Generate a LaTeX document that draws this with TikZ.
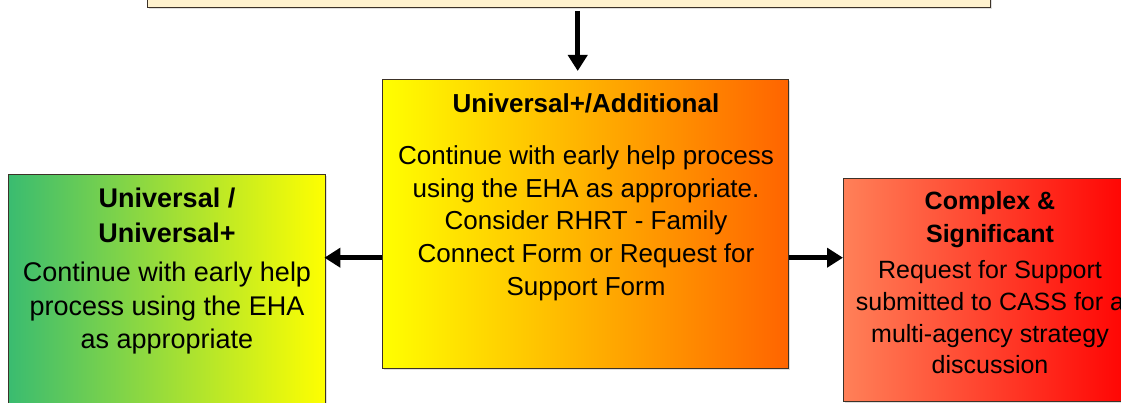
\documentclass[tikz,border=0pt]{standalone}
\usepackage{fontspec}
\setmainfont{Liberation Sans}
\usetikzlibrary{arrows.meta,shadows}
\definecolor{cream}{RGB}{255,242,206}
\definecolor{sgreen}{RGB}{58,188,112}
\definecolor{midorange}{RGB}{255,206,0}
\definecolor{deeporange}{RGB}{255,100,0}
\definecolor{coral}{RGB}{255,128,88}
\definecolor{bred}{RGB}{255,0,0}
\definecolor{edge}{RGB}{60,50,40}
\tikzset{
  box/.style={draw=edge, line width=1.4pt, rectangle, inner sep=0pt,
    drop shadow={shadow xshift=1pt, shadow yshift=-1.5pt, opacity=0.25}},
  arr/.style={line width=5.5pt, -{Triangle[length=16pt,width=19pt]}},
  tm/.style={inner sep=0pt, anchor=base, font=\fontsize{26}{32}\selectfont},
  tl/.style={inner sep=0pt, anchor=base, font=\fontsize{27}{33}\selectfont},
  tr/.style={inner sep=0pt, anchor=base, font=\fontsize{25}{31}\selectfont},
}
\begin{document}
\begin{tikzpicture}[x=1pt,y=-1pt]
\useasboundingbox (0,0) rectangle (1121,403);
% boxes
\node[box, fill=cream, minimum width=843pt, minimum height=60pt, anchor=south west] (top) at (147,8) {};
\node[box, left color=yellow, middle color=midorange, right color=deeporange,
      minimum width=406pt, minimum height=289pt, anchor=north west] (mid) at (382,79) {};
\node[box, left color=sgreen, right color=yellow,
      minimum width=317pt, minimum height=260pt, anchor=north west] (lft) at (8,174) {};
\node[box, left color=coral, right color=bred,
      minimum width=293pt, minimum height=223pt, anchor=north west] (rgt) at (843,178) {};
% arrows
\draw[arr, shorten <=3pt, shorten >=8pt] ([xshift=8.5pt]top.south) -- ([xshift=-8pt]mid.north);
\coordinate (ml) at ([yshift=-33.5pt]mid.west);
\coordinate (mr) at ([yshift=-33.5pt]mid.east);
\draw[arr, shorten >=-2pt] (ml) -- (ml -| lft.east);
\draw[arr] (mr) -- (mr -| rgt.west);
% middle text
\node[tm, font=\fontsize{26}{32}\selectfont\bfseries] (m0) at (586,113) {Universal+/Additional};
\node[tm] (m1) at (586,165) {Continue with early help process};
\node[tm] (m2) at (586,197.5) {using the EHA as appropriate.};
\node[tm] (m3) at (586,230) {Consider RHRT - Family};
\node[tm] (m4) at (586,262.5) {Connect Form or Request for};
\node[tm] (m5) at (586,295) {Support Form};
% left text
\node[tl, font=\fontsize{27}{33}\selectfont\bfseries] (l0) at (167,208) {Universal /};
\node[tl, font=\fontsize{27}{33}\selectfont\bfseries] (l1) at (167,243) {Universal+};
\node[tl] (l2) at (167,281) {Continue with early help};
\node[tl] (l3) at (167,315) {process using the EHA};
\node[tl] (l4) at (167,348) {as appropriate};
% right text
\node[tr, font=\fontsize{25}{31}\selectfont\bfseries] (r0) at (990,210) {Complex \&};
\node[tr, font=\fontsize{25}{31}\selectfont\bfseries] (r1) at (990,243) {Significant};
\node[tr] (r2) at (990,278) {Request for Support};
\node[tr] (r3) at (990,310) {submitted to CASS for a};
\node[tr] (r4) at (990,342) {multi-agency strategy};
\node[tr] (r5) at (990,373) {discussion};
\end{tikzpicture}
\end{document}
